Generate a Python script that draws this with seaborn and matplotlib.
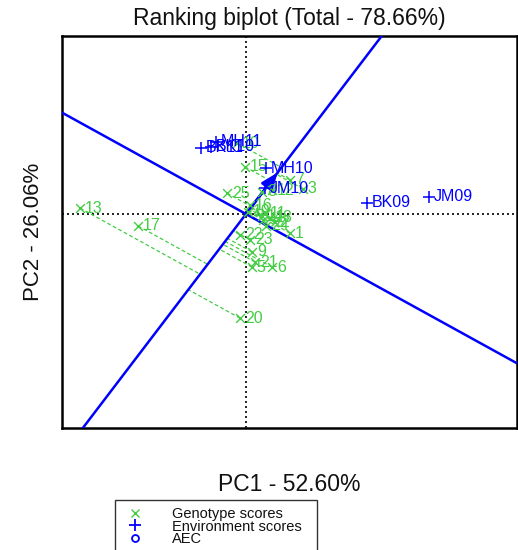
import numpy as np
import pandas as pd
import matplotlib.pyplot as plt
from matplotlib.lines import Line2D
import seaborn as sns

# Genotype scores (PC1, PC2)
gen_labels = [str(i) for i in range(1, 26)]
gen_pc1 = [0.88, 0.58, 1.14, 0.34, 0.12, 0.52, 0.88, 0.32, 0.12, -0.18,
           0.38, 0.52, -3.32, 0.32, -0.02, 0.08, -2.16, 0.48, 0.04, -0.12,
           0.18, -0.12, 0.08, 0.40, -0.38]
gen_pc2 = [-0.45, -0.19, 0.59, -0.14, -1.25, -1.25, 0.80, 0.52, -0.89, 1.67,
           0.02, 0.56, 0.14, -0.05, 1.11, 0.21, -0.28, -0.09, 0.05, -2.45,
           -1.13, -0.49, -0.61, -0.28, 0.49]

# Environment scores
env_labels = ["JM09", "BK09", "MH10", "JM10", "BK10", "BK11", "MH11"]
env_pc1 = [3.66, 2.42, 0.40, 0.38, -0.70, -0.90, -0.60]
env_pc2 = [0.40, 0.26, 1.08, 0.61, 1.58, 1.56, 1.70]

title = "Ranking biplot (Total - 78.66%)"
xlab = "PC1 - 52.60%"
ylab = "PC2 - 26.06%"

gen = pd.DataFrame({"PC1": gen_pc1, "PC2": gen_pc2, "label": gen_labels})
env = pd.DataFrame({"PC1": env_pc1, "PC2": env_pc2, "label": env_labels})

# average environment coordinate
aec = env[["PC1", "PC2"]].mean().values
u = aec / np.linalg.norm(aec)

sns.set_style("white")
plt.rcParams["font.family"] = ["Liberation Sans", "DejaVu Sans"]
plt.rcParams["text.color"] = "#111111"
plt.rcParams["axes.labelcolor"] = "#111111"

green = "#44cc44"
blue = "#0000ff"

fig = plt.figure(figsize=(5.18, 5.50), dpi=100)
ax = fig.add_axes([62 / 518, 122 / 550, 455 / 518, 392 / 550])

ax.axhline(0, color="black", ls=(0, (1.2, 1.8)), lw=1.2, zorder=1)
ax.axvline(0, color="black", ls=(0, (1.2, 1.8)), lw=1.2, zorder=1)

# projections of genotypes onto the AEC abscissa
for x, y in zip(gen_pc1, gen_pc2):
    p = np.dot([x, y], u) * u
    ax.plot([x, p[0]], [y, p[1]], color=green, ls=(0, (3, 2)), lw=0.9, zorder=2)

# AEC abscissa and ordinate
ax.axline((0, 0), (aec[0], aec[1]), color=blue, lw=1.8, zorder=3)
ax.axline((0, 0), (aec[1], -aec[0]), color=blue, lw=1.8, zorder=3)
ax.annotate("", xy=(aec[0], aec[1]), xytext=(0, 0),
            arrowprops=dict(arrowstyle="-|>,head_length=1.0,head_width=0.4",
                            color=blue, lw=2), zorder=4)

sns.scatterplot(data=gen, x="PC1", y="PC2", marker="x", color=green,
                s=40, linewidth=1.0, ax=ax, zorder=5)
sns.scatterplot(data=env, x="PC1", y="PC2", marker="+", color=blue,
                s=80, linewidth=1.1, ax=ax, zorder=6)

for _, r in gen.iterrows():
    ax.annotate(r["label"], (r["PC1"], r["PC2"]), xytext=(3.5, 0),
                textcoords="offset points", va="center", ha="left",
                fontsize=11.5, color=green, zorder=5)
for _, r in env.iterrows():
    ax.annotate(r["label"], (r["PC1"], r["PC2"]), xytext=(3.5, 0),
                textcoords="offset points", va="center", ha="left",
                fontsize=11.5, color=blue, zorder=6)

ax.set_xlim(-3.68, 5.42)
ax.set_ylim(-5.035, 4.188)
ax.set_xticks([])
ax.set_yticks([])
for s in ax.spines.values():
    s.set_color("black")
    s.set_linewidth(1.8)

ax.set_title(title, fontsize=16.5, pad=8)
ax.set_xlabel(xlab, fontsize=16.5, labelpad=32.5)
ax.set_ylabel(ylab, fontsize=16, labelpad=13)

handles = [
    Line2D([], [], ls="none", marker="x", color=green, markersize=5.5, mew=1),
    Line2D([], [], ls="none", marker="+", color=blue, markersize=8, mew=1.3),
    Line2D([], [], ls="none", marker="o", mfc="none", color=blue, markersize=5, mew=1.3),
]
leg = fig.legend(handles, ["Genotype scores", "Environment scores  ", "AEC"],
                 loc="upper left", bbox_to_anchor=(115 / 518, 1 - 500 / 550),
                 fontsize=10.5, frameon=True, fancybox=False, borderpad=0.5,
                 handlelength=1.7, handletextpad=1.7, labelspacing=-0.12,
                 borderaxespad=0)
leg.get_frame().set_edgecolor("black")
leg.get_frame().set_linewidth(1.0)

fig.savefig("out.png", dpi=100)
